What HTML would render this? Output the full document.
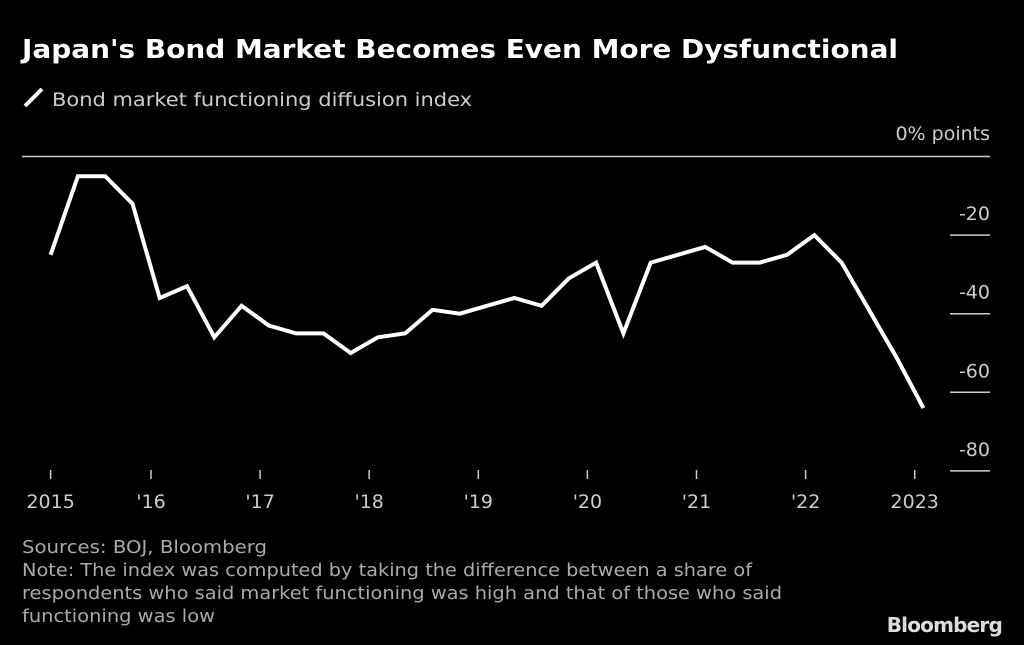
<!DOCTYPE html>
<html><head><meta charset="utf-8"><style>
html,body{margin:0;padding:0;background:#000;}
svg{display:block;font-family:"DejaVu Sans","Liberation Sans",sans-serif;}
</style></head><body>
<svg id="chart" width="1024" height="645" viewBox="0 0 1024 645">
<rect width="1024" height="645" fill="#000"/>
<text x="22" y="58" fill="#fff" font-size="26" font-weight="bold" textLength="876" lengthAdjust="spacingAndGlyphs">Japan's Bond Market Becomes Even More Dysfunctional</text>
<line x1="25" y1="106" x2="42" y2="89" stroke="#fff" stroke-width="4"/>
<text x="52" y="106" fill="#ccc" font-size="19" textLength="420" lengthAdjust="spacingAndGlyphs">Bond market functioning diffusion index</text>
<text x="990" y="140" fill="#ccc" font-size="19" text-anchor="end">0% points</text>
<line x1="22" y1="156.5" x2="990" y2="156.5" stroke="#ccc" stroke-width="1.5"/>
<g id="yaxis"></g>
<g id="xaxis"></g>
<g id="series"></g>
<text x="22" y="553" fill="#aaa" font-size="18" textLength="245" lengthAdjust="spacingAndGlyphs">Sources: BOJ, Bloomberg</text>
<text x="22" y="576" fill="#aaa" font-size="18" textLength="730" lengthAdjust="spacingAndGlyphs">Note: The index was computed by taking the difference between a share of</text>
<text x="22" y="599" fill="#aaa" font-size="18" textLength="760" lengthAdjust="spacingAndGlyphs">respondents who said market functioning was high and that of those who said</text>
<text x="22" y="622" fill="#aaa" font-size="18" textLength="193" lengthAdjust="spacingAndGlyphs">functioning was low</text>
<text x="1002" y="632" fill="#ddd" font-size="20" font-weight="bold" text-anchor="end" letter-spacing="-0.8">Bloomberg</text>
</svg>
<script>
const values = [-25,-5,-5,-12,-36,-33,-46,-38,-43,-45,-45,-50,-46,-45,-39,-40,-38,-36,-38,-31,-27,-45,-27,-25,-23,-27,-27,-25,-20,-27,-39,-51,-64];
const startYear = 2015.08;
const stepYears = 0.25;
const yTicks = [-20,-40,-60,-80];
const xTickYears = [2015.08,2016,2017,2018,2019,2020,2021,2022,2023];
const xTickLabels = ["2015","'16","'17","'18","'19","'20","'21","'22","2023"];
const NS = "http://www.w3.org/2000/svg";
function xs(t){return 151 + (t-2016)*109.1;}
function ys(v){return 156.5 - v*3.93;}
const yg = document.getElementById('yaxis');
yTicks.forEach(v=>{
  const l=document.createElementNS(NS,'line');
  l.setAttribute('x1',950);l.setAttribute('x2',990);
  l.setAttribute('y1',ys(v));l.setAttribute('y2',ys(v));
  l.setAttribute('stroke','#ccc');l.setAttribute('stroke-width','1.5');
  
  
  yg.appendChild(l);
  const t=document.createElementNS(NS,'text');
  t.setAttribute('x',990);t.setAttribute('y',ys(v)-15);
  t.setAttribute('text-anchor','end');t.setAttribute('fill','#ccc');t.setAttribute('font-size','19');
  t.textContent=String(v);
  
  
  yg.appendChild(t);
});
const xg=document.getElementById('xaxis');
xTickYears.forEach((yr,i)=>{
  const x=xs(yr);
  const l=document.createElementNS(NS,'line');
  l.setAttribute('x1',x);l.setAttribute('x2',x);l.setAttribute('y1',470);l.setAttribute('y2',479);
  l.setAttribute('stroke','#ccc');l.setAttribute('stroke-width','1.5');
  
  
  xg.appendChild(l);
  const t=document.createElementNS(NS,'text');
  t.setAttribute('x',x);t.setAttribute('y',508);t.setAttribute('text-anchor','middle');
  t.setAttribute('fill','#ccc');t.setAttribute('font-size','19');
  t.textContent=xTickLabels[i];
  
  
  xg.appendChild(t);
});
const pts=values.map((v,i)=>xs(startYear+i*stepYears).toFixed(1)+','+ys(v).toFixed(1)).join(' ');
const pl=document.createElementNS(NS,'polyline');
pl.setAttribute('points',pts);pl.setAttribute('fill','none');pl.setAttribute('stroke','#fff');
pl.setAttribute('stroke-width','4');pl.setAttribute('stroke-linejoin','miter');


document.getElementById('series').appendChild(pl);
</script>
</body></html>
